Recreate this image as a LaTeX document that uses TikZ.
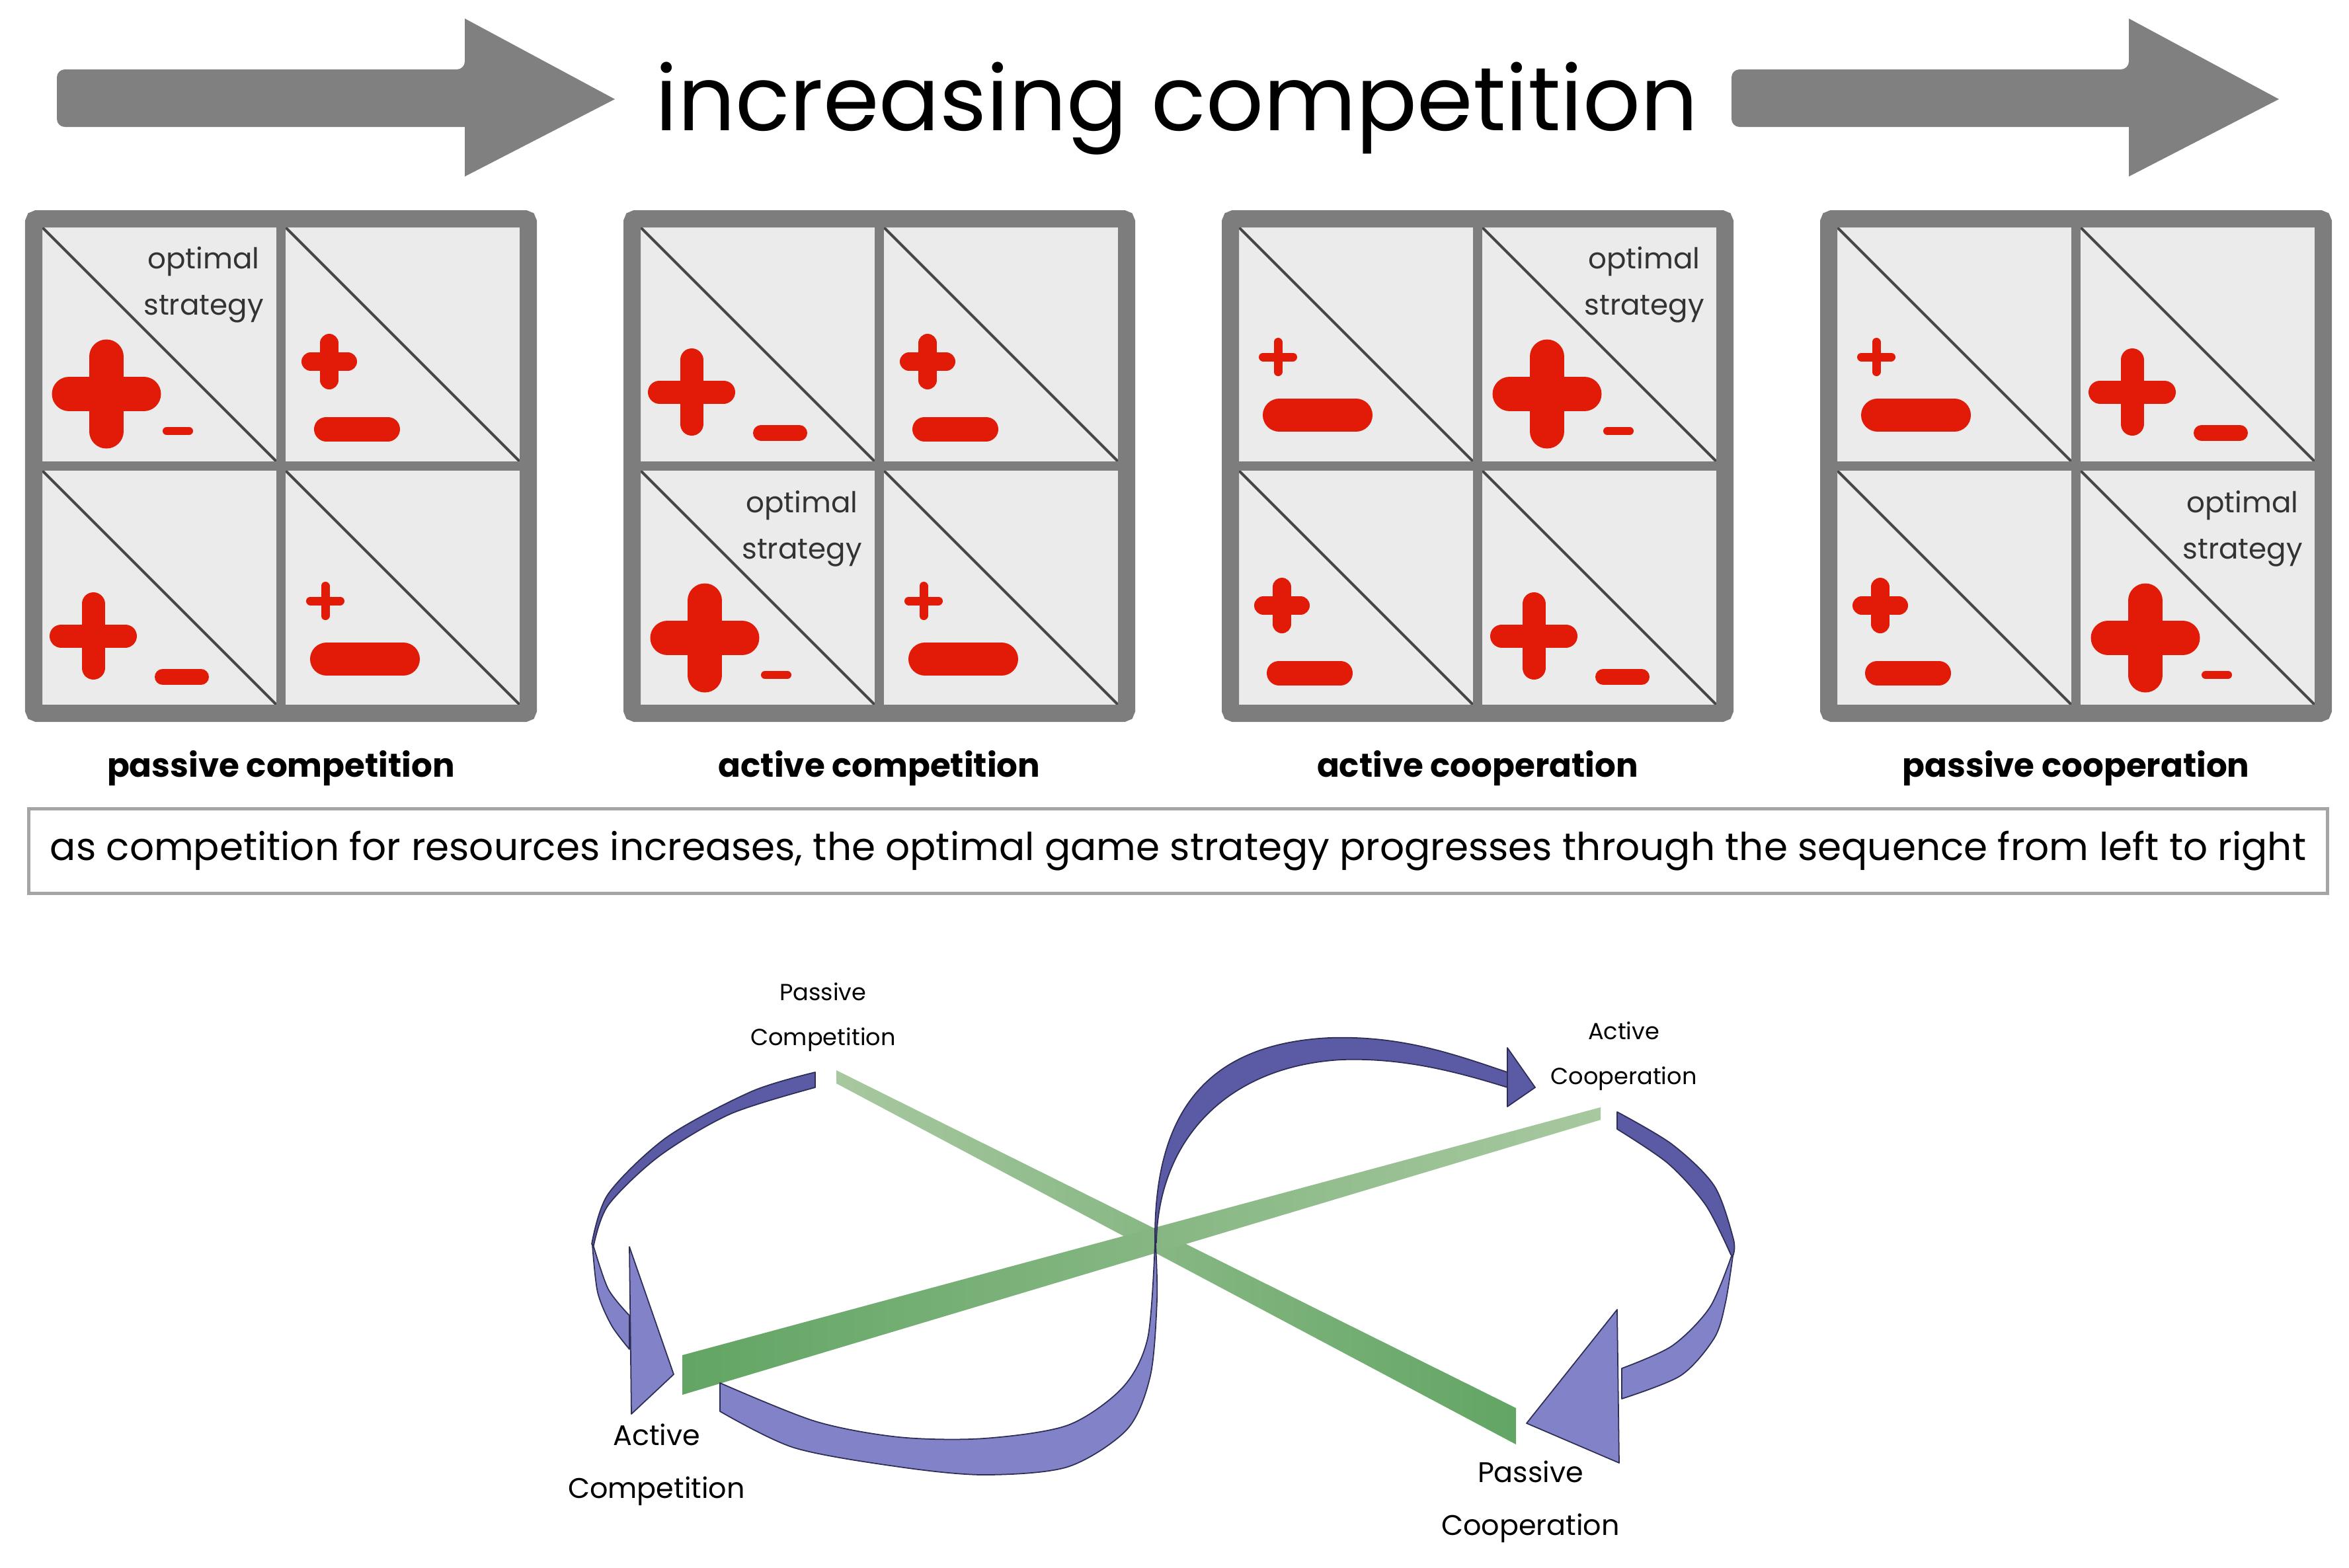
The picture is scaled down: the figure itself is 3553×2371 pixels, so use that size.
\documentclass[tikz,border=0pt]{standalone}
\usepackage{fontspec}
\setmainfont{Poppins}
\usepackage{tikz}

\definecolor{arrowgray}{RGB}{128,128,128}
\definecolor{framegray}{RGB}{125,125,125}
\definecolor{cellgray}{RGB}{235,235,235}
\definecolor{diaggray}{RGB}{70,70,70}
\definecolor{signred}{RGB}{226,26,8}
\definecolor{capgray}{RGB}{165,165,165}
\definecolor{greenlight}{RGB}{168,200,160}
\definecolor{greendark}{RGB}{98,165,100}
\definecolor{ribdark}{RGB}{90,90,165}
\definecolor{riblight}{RGB}{130,130,200}
\definecolor{ribedge}{RGB}{45,45,85}

% one plus / minus: centre x, centre y, span, stroke (all in px)
\newcommand{\plusat}[4]{%
  \draw[redsign, line width=#4*0.01cm]
    ({#1-(#3-#4)/2},{#2}) -- ({#1+(#3-#4)/2},{#2})
    ({#1},{#2-(#3-#4)/2}) -- ({#1},{#2+(#3-#4)/2});}
\newcommand{\minusat}[4]{%
  \draw[redsign, line width=#4*0.01cm]
    ({#1-(#3-#4)/2},{#2}) -- ({#1+(#3-#4)/2},{#2});}

% cell kinds, argument = top left corner of the cell
\newcommand{\cellA}[2]{% big plus, tiny minus
  \plusat{#1+98}{#2+253}{165}{52}\minusat{#1+206}{#2+309}{46}{12}
  \node[optlabel] (opt\i) at ({#1+245},{#2+88}) {optimal\\strategy};}
\newcommand{\cellB}[2]{%
  \plusat{#1+78}{#2+250}{132}{35}\minusat{#1+212}{#2+312}{82}{24}}
\newcommand{\cellC}[2]{%
  \plusat{#1+66}{#2+204}{84}{28}\minusat{#1+108}{#2+306}{130}{37}}
\newcommand{\cellD}[2]{% tiny plus, big minus
  \plusat{#1+60}{#2+197}{58}{13}\minusat{#1+120}{#2+285}{166}{50}}

\begin{document}
\begin{tikzpicture}[x=0.01cm, y=-0.01cm,
    redsign/.style={draw=signred, line cap=round},
    frame/.style={draw=framegray, line width=0.26cm, rounded corners=0.05cm},
    divider/.style={draw=framegray, line width=0.14cm},
    diag/.style={draw=diaggray, line width=0.04cm},
    optlabel/.style={font=\fontsize{12.4}{20}\selectfont, text=black!80, align=center, inner sep=0pt},
    panellabel/.style={font=\bfseries\fontsize{14.2}{16}\selectfont, inner sep=0pt},
    capbox/.style={draw=capgray, line width=0.05cm, minimum width=34.74cm, minimum height=1.27cm,
                   inner sep=0pt, font=\fontsize{16.5}{18}\selectfont},
    smalllabel/.style={font=\fontsize{10}{19.3}\selectfont, align=center, inner sep=0pt},
    biglabel/.style={font=\fontsize{12.2}{22.8}\selectfont, align=center, inner sep=0pt},
    ribtop/.style={fill=ribdark, draw=ribedge, line width=0.5pt, line join=round},
    ribunder/.style={fill=riblight, draw=ribedge, line width=0.5pt, line join=round}
  ]
    \useasboundingbox (0,0) rectangle (3553,2371);

    % heading
    \node[font=\fontsize{38.7}{46}\selectfont, anchor=base] (title) at (1780,197) {increasing competition};
    \fill[arrowgray, rounded corners=0.12cm] (86,105) -- (703,105) [sharp corners] -- (703,28) -- (930,150)
      -- (703,267) -- (703,192) [rounded corners=0.12cm] -- (86,192) -- cycle;
    \fill[arrowgray, rounded corners=0.12cm] (2619,105) -- (3220,105) [sharp corners] -- (3220,28) -- (3447,150)
      -- (3220,267) -- (3220,192) [rounded corners=0.12cm] -- (2619,192) -- cycle;

    % the four pay-off tables
    \foreach \qa/\qb/\qc/\qd/\lbl [count=\i from 0] in
      {A/C/B/D/passive competition, B/C/A/D/active competition,
       D/A/C/B/active cooperation, D/B/C/A/passive cooperation}{
      \pgfmathsetmacro\X{38+905*\i}
      \fill[cellgray] (\X+13,331) rectangle (\X+761,1079);
      \draw[diag] (\X+26,344) -- (\X+380,698);
      \draw[diag] (\X+394,344) -- (\X+748,698);
      \draw[diag] (\X+26,712) -- (\X+380,1066);
      \draw[diag] (\X+394,712) -- (\X+748,1066);
      \csname cell\qa\endcsname{\X+25}{343}
      \csname cell\qb\endcsname{\X+394}{343}
      \csname cell\qc\endcsname{\X+25}{712}
      \csname cell\qd\endcsname{\X+394}{712}
      \draw[divider] (\X+387,331) -- (\X+387,1079);
      \draw[divider] (\X+13,705) -- (\X+761,705);
      \draw[frame] (\X+13,331) rectangle (\X+761,1079);
      \node[panellabel] (lab\i) at (\X+387,1162) {\lbl};
    }

    \node[capbox] (caption) at (1782,1287.5) {as competition for resources increases, the optimal game strategy progresses through the sequence from left to right};

    % lower figure: labels
    \node[smalllabel] (pcomp) at (1245,1539) {Passive\\Competition};
    \node[smalllabel] (acoop) at (2456,1598) {Active\\Cooperation};
    \node[biglabel] (acomp) at (993,2216) {Active\\Competition};
    \node[biglabel] (pcoop) at (2315,2272) {Passive\\Cooperation};

    % green bars
    \shade[left color=greenlight, right color=greendark]
      (1265,1619) -- (1265,1639) -- (2293,2185) -- (2293,2130) -- cycle;
    \shade[left color=greendark, right color=greenlight]
      (1032,2050) -- (1032,2110) -- (2421,1694) -- (2421,1675) -- cycle;

    % ribbon: passive competition -> active competition
    \filldraw[ribtop] plot[smooth] coordinates {(1233,1622) (1137,1651) (1009,1720) (920,1806) (895,1882)}
      -- plot[smooth] coordinates {(898,1884) (920,1823) (997,1749) (1105,1685) (1233,1645)} -- cycle;
    \filldraw[ribunder] plot[smooth] coordinates {(896,1883) (904,1955) (925,2005) (952,2041)}
      -- plot[smooth] coordinates {(952,1990) (920,1950) (898,1886)} -- cycle;
    \filldraw[ribunder] (952,1886) -- (1019,2079) -- (955,2139) -- cycle;

    % ribbon: active competition -> active cooperation
    \filldraw[ribunder] plot[smooth] coordinates {(1089,2092) (1233,2150) (1360,2174) (1488,2176) (1615,2156)
        (1698,2099) (1736,2024) (1747,1880)}
      -- plot[smooth] coordinates {(1748,1882) (1750,1967) (1740,2081) (1705,2162) (1615,2219) (1488,2231)
        (1360,2219) (1201,2190) (1089,2135)} -- cycle;
    \filldraw[ribtop] (1747,1880) .. controls (1745,1700) and (1810,1580) .. (2010,1570)
      .. controls (2120,1566) and (2200,1595) .. (2280,1622) -- (2280,1645)
      .. controls (2200,1620) and (2120,1600) .. (2030,1603)
      .. controls (1860,1612) and (1752,1720) .. (1749,1880) -- cycle;
    \filldraw[ribtop] (2280,1585) -- (2322,1645) -- (2280,1674) -- cycle;

    % ribbon: active cooperation -> passive cooperation
    \filldraw[ribtop] plot[smooth] coordinates {(2446,1682) (2529,1731) (2593,1794) (2622,1875) (2621,1900)}
      -- plot[smooth] coordinates {(2618,1898) (2580,1823) (2523,1760) (2446,1708)} -- cycle;
    \filldraw[ribunder] plot[smooth] coordinates {(2621,1900) (2610,1970) (2593,2024) (2542,2081) (2453,2116)}
      -- plot[smooth] coordinates {(2453,2070) (2529,2036) (2586,1978) (2619,1900)} -- cycle;
    \filldraw[ribunder] (2446,1981) -- (2309,2153) -- (2449,2213) -- cycle;
\end{tikzpicture}
\end{document}
